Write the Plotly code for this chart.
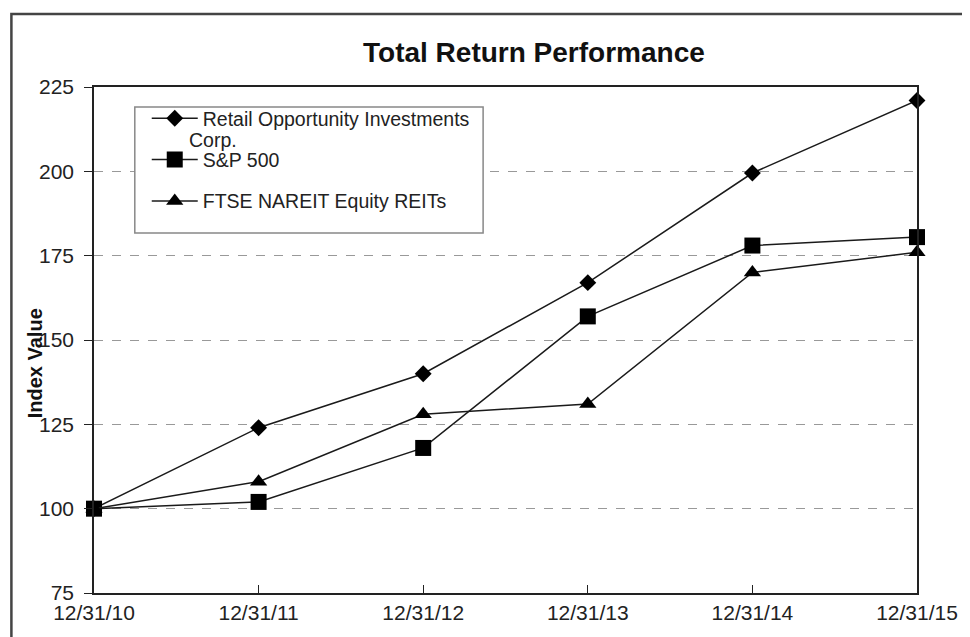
import plotly.graph_objects as go

categories = ["12/31/10", "12/31/11", "12/31/12", "12/31/13", "12/31/14", "12/31/15"]
roic = [100, 124, 140, 167, 199.5, 221]
sp500 = [100, 102, 118, 157, 178, 180.5]
ftse = [100, 108, 128, 131, 170, 176]
series_names = ["Retail Opportunity Investments", "S&P 500", "FTSE NAREIT Equity REITs"]
name_suffix = "Corp."
y_ticks = [75, 100, 125, 150, 175, 200, 225]

OFF = 8  # page body margin
W, H = 970 - OFF, 637 - OFF
L, R, T, B = 94 - OFF, 921 - OFF, 87 - OFF, 593 - OFF
pw, ph = R - L, B - T

def px(x):  # page x -> paper
    return (x - OFF - L) / pw

def py(y):  # page y -> paper
    return (B - (y - OFF)) / ph

FONT = "Liberation Sans, Arial, sans-serif"
LINE = "#1a1a1a"

fig = go.Figure()
for name, vals, sym, size, grp in [
    (series_names[0], roic, "diamond", 13, "a"),
    (series_names[1], sp500, "square", 16, "b"),
    (series_names[2], ftse, "triangle-up", 15, "c"),
]:
    fig.add_trace(go.Scatter(
        x=categories, y=vals, name=name, mode="lines+markers",
        line=dict(color=LINE, width=1.5),
        marker=dict(symbol=sym, size=size, color="black", line=dict(width=0)),
        cliponaxis=False, legendgroup=grp,
    ))

fig.update_layout(
    width=W, height=H,
    margin=dict(l=L, r=W - R, t=T, b=H - B, pad=0),
    paper_bgcolor="white", plot_bgcolor="white",
    font=dict(family=FONT, size=21, color="#222"),
    showlegend=True,
    legend=dict(
        x=px(147), y=py(99), xanchor="left", yanchor="top",
        bgcolor="rgba(0,0,0,0)", borderwidth=0,
        font=dict(family=FONT, size=19.5, color="#222"),
        tracegroupgap=13, itemwidth=46,
    ),
    xaxis=dict(
        type="category", range=[0, 5], showgrid=False,
        showline=True, linecolor="#222", linewidth=1.5, mirror=True,
        ticks="inside", ticklen=8, tickcolor="#222",
        tickfont=dict(size=21),
    ),
    yaxis=dict(
        range=[75, 225], tickvals=y_ticks,
        showgrid=True, gridcolor="#999", griddash="dash", gridwidth=1,
        showline=True, linecolor="#222", linewidth=1.5, mirror=True,
        ticks="outside", ticklen=8, tickcolor="#222", ticklabelstandoff=6,
        tickfont=dict(size=21), zeroline=False,
    ),
    annotations=[
        dict(text="<b>Total Return Performance</b>", x=px(536), y=py(53),
             xref="paper", yref="paper", showarrow=False,
             font=dict(size=28, color="#111"), xanchor="center", yanchor="middle"),
        dict(text="<b>Index Value</b>", x=px(35), y=py(363),
             xref="paper", yref="paper", showarrow=False, textangle=-90,
             font=dict(size=20, color="#111"), xanchor="center", yanchor="middle"),
        dict(text=name_suffix, x=px(187), y=py(140),
             xref="paper", yref="paper", showarrow=False,
             font=dict(size=19.5, color="#222"), xanchor="left", yanchor="middle"),
    ],
    shapes=[
        dict(type="rect", xref="paper", yref="paper",
             x0=px(11), x1=px(1000), y0=py(680), y1=py(14),
             line=dict(color="#444", width=2.5), layer="below"),
        dict(type="rect", xref="paper", yref="paper",
             x0=px(135), x1=px(485), y0=py(233), y1=py(107),
             line=dict(color="#888", width=1.5), fillcolor="white", layer="above"),
    ],
)

fig.write_html("out.html")
